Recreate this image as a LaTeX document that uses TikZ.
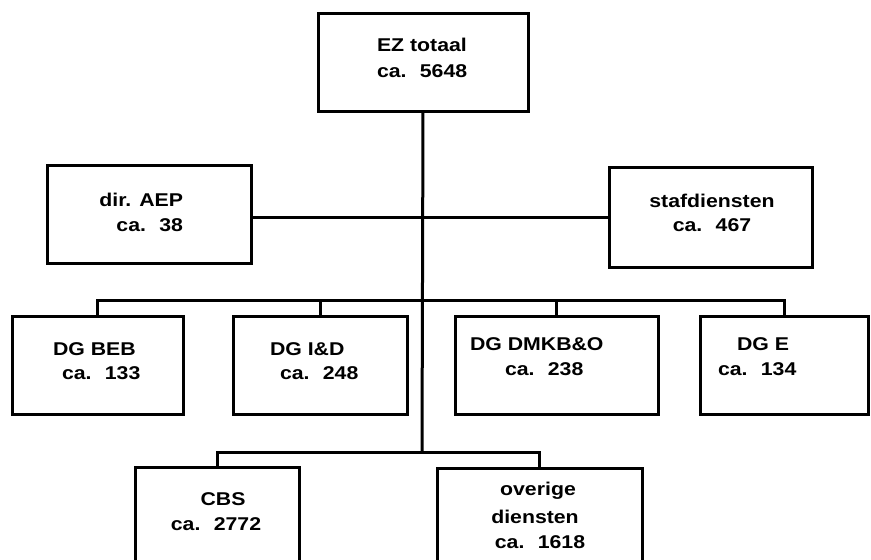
\documentclass[tikz,border=0pt]{standalone}
\usepackage{fontspec}
\setmainfont{Liberation Sans}[FakeStretch=1.15]
\begin{document}
\begin{tikzpicture}[x=1pt,y=-1pt,
  every node/.style={inner sep=0pt, outer sep=0pt},
  orgbox/.style={draw, line width=3pt, rectangle},
  txt/.style={font=\fontsize{18.5}{25}\selectfont\bfseries, anchor=base},
  wire/.style={line width=3pt}]
\newcommand\caa[1]{ca.\hspace{0.72em}#1}
\useasboundingbox (0,0) rectangle (871,560);
\clip (0,0) rectangle (871,560);

% boxes
\node[orgbox, minimum width=210pt, minimum height=98pt]  (ez)   at (423,62) {};
\node[orgbox, minimum width=204pt, minimum height=98pt]  (aep)  at (149,214) {};
\node[orgbox, minimum width=203pt, minimum height=100pt] (staf) at (710.5,217) {};
\node[orgbox, minimum width=171pt, minimum height=98pt]  (beb)  at (97.5,365) {};
\node[orgbox, minimum width=174pt, minimum height=98pt]  (ind)  at (320,365) {};
\node[orgbox, minimum width=203pt, minimum height=98pt]  (dmk)  at (556.5,365) {};
\node[orgbox, minimum width=168pt, minimum height=98pt]  (dge)  at (784,365) {};
\node[orgbox, minimum width=164pt, minimum height=113pt] (cbs)  at (217,523.5) {};
\node[orgbox, minimum width=205pt, minimum height=112pt] (ov)   at (539.5,524) {};

% junction points on the trunk
\coordinate (hub)  at (422,217);
\coordinate (bus)  at (422,300);
\coordinate (bus2) at (422,452);

% connectors
\draw[wire] (ez.south) -- (bus2);
\draw[wire] (aep.east |- hub) -- (staf.west |- hub);
\draw[wire] (beb.north) |- (dge.north |- bus) -- (dge.north);
\draw[wire] (ind.north) -- (ind.north |- bus);
\draw[wire] (dmk.north) -- (dmk.north |- bus);
\draw[wire] (cbs.north) |- (ov.north |- bus2) -- (ov.north);

% labels
\node[txt, anchor=base west] (ez1) at (377,51) {EZ totaal};
\node[txt, anchor=base west] (ez2) at (377,77) {\caa{5648}};

\node[txt, anchor=base east] (aep1) at (183,206) {dir. AEP};
\node[txt, anchor=base east] (aep2) at (183,231) {\caa{38}};

\node[txt] (staf1) at (712,207) {stafdiensten};
\node[txt] (staf2) at (712,231) {\caa{467}};

\node[txt, anchor=base west] (beb1) at (53,355) {DG BEB};
\node[txt, anchor=base west] (beb2) at (62,379) {\caa{133}};

\node[txt, anchor=base west] (ind1) at (270,355) {DG I\&D};
\node[txt, anchor=base west] (ind2) at (280,379) {\caa{248}};

\node[txt, anchor=base west] (dmk1) at (470,350) {DG DMKB\&O};
\node[txt, anchor=base west] (dmk2) at (505,375) {\caa{238}};

\node[txt, anchor=base west] (dge1) at (737,350) {DG E};
\node[txt, anchor=base west] (dge2) at (718,375) {\caa{134}};

\node[txt] (cbs1) at (223,505) {CBS};
\node[txt] (cbs2) at (216,530) {\caa{2772}};

\node[txt] (ov1) at (538,495) {overige};
\node[txt] (ov2) at (535,523) {diensten};
\node[txt] (ov3) at (540,548) {\caa{1618}};
\end{tikzpicture}
\end{document}
